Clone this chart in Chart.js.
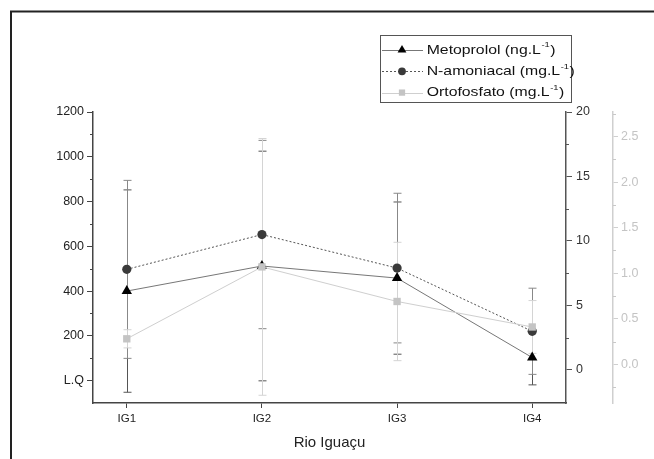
<!DOCTYPE html>
<html><head><meta charset="utf-8">
<script src="https://cdn.jsdelivr.net/npm/chart.js@4/dist/chart.umd.min.js"></script>
<style>html,body{margin:0;padding:0;background:#fff}canvas{display:block}</style>
</head><body>
<canvas id="c" width="654" height="459"></canvas>
<script>
const categories = ['IG1', 'IG2', 'IG3', 'IG4'];
const seriesNames = ['Metoprolol', 'N-amoniacal', 'Ortofosfato'];
const seriesUnits = ['ng.L', 'mg.L', 'mg.L'];
const metoprolol = [400, 512, 458, 103];
const metoprololErr = [452, 513, 340, 122];
const nAmoniacal = [7.8, 10.5, 7.9, 3.0];
const nAmoniacalErr = [6.9, 7.3, 5.8, 3.34];
const ortofosfato = [0.28, 1.07, 0.69, 0.41];
const ortofosfatoErr = [0.10, 1.41, 0.65, 0.29];
const leftTicks = [0, 200, 400, 600, 800, 1000, 1200];
const leftTickLabels = ['L.Q', '200', '400', '600', '800', '1000', '1200'];
const leftMinor = [100, 300, 500, 700, 900, 1100];
const right1Ticks = [0, 5, 10, 15, 20];
const right1Minor = [2.5, 7.5, 12.5, 17.5];
const right2Ticks = [0, 0.5, 1, 1.5, 2, 2.5];
const right2Minor = [-0.25, 0.25, 0.75, 1.25, 1.75, 2.25, 2.75];

Chart.defaults.font.family = "'Liberation Sans', Arial, sans-serif";

function fixedTicks(vals) { return s => { s.ticks = vals.map(v => ({ value: v })); }; }

const framePlugin = {
  id: 'frame',
  beforeDraw(chart) {
    const ctx = chart.ctx;
    ctx.save();
    ctx.fillStyle = '#fff';
    ctx.fillRect(0, 0, chart.width, chart.height);
    ctx.strokeStyle = '#222';
    ctx.lineWidth = 2;
    ctx.beginPath();
    ctx.moveTo(11, 459); ctx.lineTo(11, 11.5); ctx.lineTo(654, 11.5);
    ctx.stroke();
    ctx.restore();
  }
};

const errorPlugin = {
  id: 'errorBars',
  beforeDatasetsDraw(chart) {
    const ctx = chart.ctx, xs = chart.scales.x;
    ctx.save();
    chart.data.datasets.forEach(ds => {
      const ys = chart.scales[ds.yAxisID];
      ctx.strokeStyle = ds.errorColor;
      ctx.lineWidth = 1;
      ds.data.forEach((p, j) => {
        const e = ds.errors[j];
        const x = Math.round(xs.getPixelForValue(p.x)) + 0.5;
        const yt = ys.getPixelForValue(p.y + e);
        const yb = ys.getPixelForValue(p.y - e);
        ctx.beginPath();
        ctx.moveTo(x, yt); ctx.lineTo(x, yb);
        ctx.moveTo(x - 4, yt); ctx.lineTo(x + 4, yt);
        ctx.moveTo(x - 4, yb); ctx.lineTo(x + 4, yb);
        ctx.stroke();
      });
    });
    ctx.restore();
  }
};

const minorPlugin = {
  id: 'minorTicks',
  afterDraw(chart) {
    const ctx = chart.ctx;
    const defs = [
      { id: 'y', vals: leftMinor, side: 'left', len: 3, color: '#444' },
      { id: 'y1', vals: right1Minor, side: 'right', len: 3, color: '#555' },
      { id: 'y2', vals: right2Minor, side: 'right', len: 3, color: '#c8c8c8' }
    ];
    ctx.save();
    ctx.lineWidth = 1;
    defs.forEach(d => {
      const s = chart.scales[d.id];
      const x0 = d.side === 'left' ? s.right : s.left;
      ctx.strokeStyle = d.color;
      d.vals.forEach(v => {
        const y = Math.round(s.getPixelForValue(v)) + 0.5;
        ctx.beginPath();
        if (d.side === 'left') { ctx.moveTo(x0 - d.len, y); ctx.lineTo(x0, y); }
        else { ctx.moveTo(x0, y); ctx.lineTo(x0 + d.len, y); }
        ctx.stroke();
      });
    });
    ctx.restore();
  }
};

const legendPlugin = {
  id: 'customLegend',
  afterDraw(chart) {
    const ctx = chart.ctx;
    ctx.save();
    ctx.strokeStyle = '#555';
    ctx.lineWidth = 1;
    ctx.strokeRect(380.5, 35.5, 191, 67);
    const rows = [50, 71.3, 92.6];
    chart.data.datasets.forEach((ds, i) => {
      const y = rows[i];
      ctx.save();
      ctx.strokeStyle = ds.borderColor;
      ctx.lineWidth = 1;
      ctx.setLineDash(ds.borderDash || []);
      ctx.beginPath();
      ctx.moveTo(382, Math.round(y) + 0.5); ctx.lineTo(423, Math.round(y) + 0.5);
      ctx.stroke();
      ctx.restore();
      ctx.fillStyle = ds.pointBackgroundColor;
      ctx.strokeStyle = ds.pointBackgroundColor;
      Chart.helpers.drawPoint(ctx, { pointStyle: ds.pointStyle, rotation: 0, radius: ds.pointRadius * 0.85, borderWidth: 0 }, 402, y);
      ctx.save();
      ctx.translate(426.7, y);
      ctx.scale(1.17, 1);
      ctx.fillStyle = '#111';
      ctx.textBaseline = 'middle';
      ctx.font = "13.5px 'Liberation Sans', Arial, sans-serif";
      const main = seriesNames[i] + ' (' + seriesUnits[i];
      ctx.fillText(main, 0, 0);
      const w = ctx.measureText(main).width;
      ctx.font = "8px 'Liberation Sans', Arial, sans-serif";
      ctx.fillText('-1', w + 0.5, -5);
      const w2 = ctx.measureText('-1').width;
      ctx.font = "13.5px 'Liberation Sans', Arial, sans-serif";
      ctx.fillText(')', w + w2 + 1, 0);
      ctx.restore();
    });
    ctx.restore();
  }
};

const toXY = arr => arr.map((v, i) => ({ x: i, y: v }));

new Chart(document.getElementById('c'), {
  type: 'line',
  data: {
    datasets: [
      {
        label: seriesNames[0], data: toXY(metoprolol), yAxisID: 'y',
        borderColor: '#777', borderWidth: 1, tension: 0,
        pointStyle: 'triangle', pointRadius: 6, pointBackgroundColor: '#000', pointBorderColor: '#000', pointBorderWidth: 0,
        order: 3, errors: metoprololErr, errorColor: '#555'
      },
      {
        label: seriesNames[1], data: toXY(nAmoniacal), yAxisID: 'y1',
        borderColor: '#555', borderWidth: 1, borderDash: [2, 2], tension: 0,
        pointStyle: 'circle', pointRadius: 4.6, pointBackgroundColor: '#3a3a3a', pointBorderColor: '#3a3a3a', pointBorderWidth: 0,
        order: 2, errors: nAmoniacalErr, errorColor: '#888'
      },
      {
        label: seriesNames[2], data: toXY(ortofosfato), yAxisID: 'y2',
        borderColor: '#cfcfcf', borderWidth: 1, tension: 0,
        pointStyle: 'rect', pointRadius: 5.2, pointBackgroundColor: '#c4c4c4', pointBorderColor: '#c4c4c4', pointBorderWidth: 0,
        order: 1, errors: ortofosfatoErr, errorColor: '#d4d4d4'
      }
    ]
  },
  options: {
    responsive: false,
    animation: false,
    devicePixelRatio: 1,
    layout: { padding: { top: 112, left: 0, right: 0, bottom: 0 } },
    plugins: { legend: { display: false }, tooltip: { enabled: false } },
    scales: {
      x: {
        type: 'linear', min: -0.25, max: 3.25,
        afterBuildTicks: fixedTicks([0, 1, 2, 3]),
        afterFit: s => { s.height = 56; },
        ticks: { callback: (v, i) => categories[i], font: { size: 11.5 }, color: '#222', padding: 4, maxRotation: 0, autoSkip: false },
        grid: { drawOnChartArea: false, tickLength: 5, tickColor: '#444', lineWidth: 1 },
        border: { color: '#444', width: 1.5 },
        title: { display: true, text: 'Rio Iguaçu', font: { size: 15 }, color: '#222', padding: { top: 0, bottom: 7 } }
      },
      y: {
        position: 'left', min: -100, max: 1200,
        afterBuildTicks: fixedTicks(leftTicks),
        afterFit: s => { s.width = 93; },
        ticks: { callback: (v, i) => leftTickLabels[i], font: { size: 12.5 }, color: '#222', padding: 3, autoSkip: false },
        grid: { drawOnChartArea: false, tickLength: 6, tickColor: '#444', lineWidth: 1 },
        border: { color: '#444', width: 1.5 }
      },
      y1: {
        position: 'right', min: -2.56, max: 20,
        afterBuildTicks: fixedTicks(right1Ticks),
        afterFit: s => { s.width = 47; },
        ticks: { callback: v => String(v), font: { size: 12.5 }, color: '#333', padding: 4, autoSkip: false },
        grid: { drawOnChartArea: false, tickLength: 6, tickColor: '#555', lineWidth: 1 },
        border: { color: '#555', width: 1.5 }
      },
      y2: {
        position: 'right', min: -0.425, max: 2.771,
        afterBuildTicks: fixedTicks(right2Ticks),
        afterFit: s => { s.width = 41; },
        ticks: { callback: v => Number(v).toFixed(1), font: { size: 12.5 }, color: '#c4c4c4', padding: 3, autoSkip: false },
        grid: { drawOnChartArea: false, tickLength: 5, tickColor: '#cfcfcf', lineWidth: 1 },
        border: { color: '#cfcfcf', width: 1.5 }
      }
    }
  },
  plugins: [framePlugin, errorPlugin, minorPlugin, legendPlugin]
});
</script>
</body></html>
